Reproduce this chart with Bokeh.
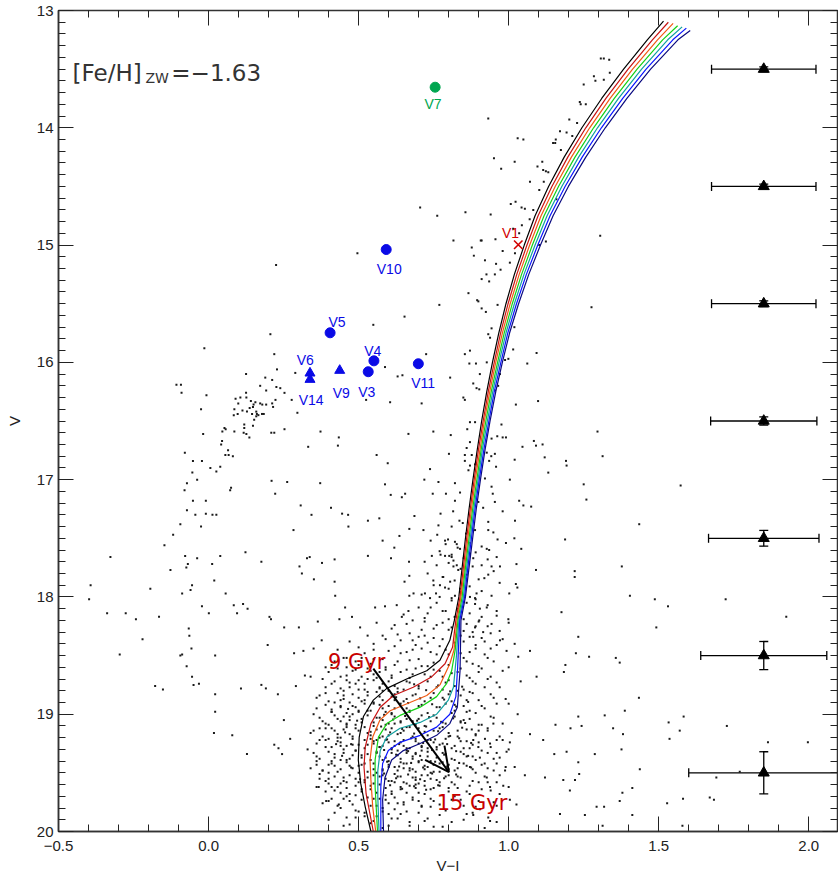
from bokeh.plotting import figure
from bokeh.models import (Range1d, LinearAxis, SingleIntervalTicker, ColumnDataSource,
                          Whisker, TeeHead, Arrow, OpenHead, CustomJSTickFormatter,
                          CustomLabelingPolicy)
from bokeh.core.properties import value
from bokeh.embed import file_html
from bokeh.resources import INLINE

# ---------------- data ----------------
# horizontal branch / blue stragglers region
hb_pts = [(-0.107,16.19),(-0.092,16.19),(-0.090,16.26),(-0.007,16.28),(-0.025,16.40),(-0.018,16.61),
(-0.079,16.77),(-0.052,16.84),(-0.022,16.84),(-0.054,16.94),(-0.038,17.00),(-0.072,17.03),(-0.080,17.09),
(-0.052,17.18),(-0.009,17.18),(-0.072,17.26),(-0.044,17.30),(-0.009,17.29),(0.013,17.30),(0.026,17.30),
(-0.094,17.38),(-0.025,17.40),(-0.118,17.47),(-0.147,17.56),(-0.327,17.66),(-0.078,17.65),(-0.069,17.72),
(-0.074,17.75),(-0.038,17.67),(0.012,17.72),(0.039,17.65),(0.123,17.62),(0.176,17.70),(-0.127,17.77),
(-0.194,17.93),(-0.055,17.90),(-0.060,17.94),(-0.088,17.97),(0.019,17.86),(0.057,17.97),(-0.022,18.08),
(0.084,18.07),(0.115,18.06),(0.130,18.10),(0.095,18.14),(0.001,18.14),(-0.338,18.14),(-0.276,18.14),
(-0.242,18.19),(-0.165,18.17),(-0.066,18.27),(0.203,18.17),(0.208,18.19),(0.252,18.26),(0.301,18.26),
(0.364,18.21),(0.436,18.19),(0.455,18.09),(0.422,17.99),(0.351,17.85),(0.311,17.80),(0.303,17.74),
(0.328,17.67),(0.337,17.66),(0.378,17.71),(0.420,17.68),(0.420,17.87),(0.283,17.43),(0.307,17.22),
(0.343,17.30),(0.408,17.24),(0.445,17.29),(0.465,17.30),(0.466,17.40),(0.372,17.03),(0.262,17.02),
(0.210,17.01),(0.222,17.12),(0.072,17.09),(0.075,17.07),(0.039,16.89),(0.026,16.93),(0.006,16.90),
(0.056,16.79),(0.067,16.79),(0.081,16.80),(0.065,16.75),(0.045,16.67),(0.042,16.70),(0.053,16.56),
(0.046,16.59),(0.057,16.57),(0.086,16.59),(0.119,16.56),(0.117,16.60),(0.148,16.54),(0.126,16.61),
(0.136,16.64),(0.152,16.49),(0.119,16.53),(0.209,16.60),(0.219,16.60),(0.253,16.57),(0.373,16.59),
(0.332,16.72),(0.431,16.71),(0.434,16.64),(0.296,16.43),(0.084,16.45),(0.097,16.44),(0.086,16.40),
(0.113,16.41),(0.128,16.42),(0.145,16.44),(0.161,16.44),(0.178,16.44),(0.184,16.44),(0.159,16.42),
(0.137,16.39),(0.150,16.36),(0.172,16.35),(0.179,16.36),(0.192,16.36),(0.212,16.35),(0.215,16.38),
(0.141,16.33),(0.126,16.30),(0.106,16.30),(0.090,16.31),(0.099,16.35),(0.125,16.26),(0.172,16.20),
(0.192,16.24),(0.226,16.21),(0.239,16.22),(0.253,16.26),(0.277,16.32),(0.223,16.32),(0.212,16.15),
(0.156,16.34),(0.148,16.38),(0.159,16.46),(0.166,16.45)]

# sparse stars, upper-left / middle part
mid_pts = [(0.206,15.76),(-0.014,15.88),(0.219,15.93),(0.228,16.06),(0.289,16.09),(0.125,16.10),(0.189,16.13),
(0.549,15.68),(0.653,15.61),(0.588,16.04),(0.630,16.12),(0.646,16.11),(0.605,16.34),(0.525,16.32),
(0.666,16.61),(0.560,16.79),(0.597,16.86),(0.588,17.04),(0.607,17.13),(0.655,17.12),(0.644,17.15),
(0.686,17.31),(0.669,17.42),(0.636,17.48),(0.619,17.58),(0.580,17.52),(0.569,17.33),(0.531,17.35),
(0.531,17.65),(0.608,17.67),(0.668,17.70),(0.653,17.87),(0.669,17.82),(0.683,17.97),(0.669,17.99),
(-0.393,17.90),(-0.398,18.02),(0.225,15.17),(0.496,15.07)]

# sparse stars, lower-left part
low_pts = [(-0.220,18.36),(-0.296,18.49),(-0.178,18.76),(-0.152,18.79),(-0.088,18.49),(-0.094,18.50),
(-0.064,18.33),(-0.057,18.44),(-0.073,18.59),(-0.055,18.68),(-0.050,18.75),(-0.032,18.74),(0.022,18.50),
(0.022,18.83),(0.022,18.98),(0.018,19.16),(0.108,18.78),(0.079,19.18),(0.128,19.34),(0.176,18.75),
(0.191,18.78),(0.197,18.41),(0.231,18.83),(0.251,19.05),(0.272,19.21),(0.219,19.26),(0.233,19.29),
(0.245,19.34),(0.285,18.48),(0.291,18.76),(0.316,18.46),(0.321,18.67),(0.340,18.68),(0.377,18.37),
(0.350,18.44),(0.392,19.74),(0.434,19.77),(0.367,19.62),(0.478,18.17),(0.505,18.26),(0.555,18.09),
(0.588,18.08),(0.627,18.07),(0.644,18.17),(0.666,18.12)]

# red giant branch and around
rgb_pts = [(1.307,13.41),(1.317,13.41),(1.335,13.42),(1.337,13.53),(1.284,13.56),(1.289,13.60),(1.317,13.59),
(1.250,13.63),(1.237,13.78),(1.240,13.80),(1.257,13.80),(1.202,13.93),(0.932,13.92),(1.228,13.96),
(1.171,14.03),(1.193,14.04),(1.212,14.07),(1.148,14.13),(1.155,14.13),(1.157,14.10),(1.030,14.09),
(1.049,14.10),(1.174,14.19),(0.951,14.26),(1.020,14.29),(0.975,14.35),(1.096,14.33),(1.112,14.29),
(1.115,14.36),(1.124,14.37),(1.132,14.38),(1.071,14.46),(1.117,14.46),(1.102,14.53),(1.159,14.61),
(1.023,14.63),(1.007,14.65),(1.043,14.68),(1.054,14.69),(1.082,14.70),(0.940,14.74),(1.070,14.78),
(1.044,14.83),(1.015,14.86),(1.035,14.90),(0.956,14.95),(0.910,14.96),(1.124,14.97),(1.102,15.00),
(1.305,14.92),(0.980,15.05),(1.021,15.07),(0.921,15.13),(0.958,15.16),(1.004,15.15),(0.973,15.21),
(0.926,15.25),(0.954,15.25),(0.935,15.31),(0.910,15.29),(0.705,14.68),(0.762,14.75),(0.856,14.72),
(0.816,14.96),(0.877,15.02),(0.884,15.09),(0.907,14.96),(0.866,15.41),(0.895,15.47),
(0.769,15.51),(0.910,15.54),(0.924,15.57),(0.899,15.48),(0.963,15.51),(1.276,15.53),(1.019,15.70),
(0.943,15.71),(0.932,15.76),(0.938,15.79),(0.871,15.90),(0.854,15.93),(1.015,15.89),(1.093,15.92),
(1.062,16.01),(0.725,15.93),(0.869,16.01),(0.891,16.01),(0.927,16.00),(0.988,15.98),(0.999,15.97),
(0.971,16.10),(0.965,16.20),(0.904,16.10),(0.805,16.13),(0.882,16.18),(0.893,16.22),(0.849,16.30),
(0.854,16.32),(0.954,16.24),(0.902,16.23),(0.710,16.35),(1.098,16.33),(1.024,16.36),(0.871,16.51),
(0.888,16.51),(0.976,16.53),(0.749,16.59),(0.807,16.62),(1.296,16.59),(0.862,16.57),(0.943,16.65),
(0.962,16.63),(0.980,16.64),(0.991,16.64),(1.046,16.72),(1.084,16.67),(1.091,16.71),(1.113,16.70),
(0.871,16.68),(0.860,16.73),(0.877,16.79),(0.801,16.78),(0.854,16.79),(0.927,16.77),(0.942,16.80),
(0.954,16.78),(0.935,16.84),(1.020,16.83),(1.120,16.81),(1.313,16.80),(1.191,16.84),(1.193,16.88),
(0.854,16.84),(0.871,16.88),(0.888,16.87),(0.866,16.92),(0.958,16.89),(1.132,16.94),(0.738,16.91),
(0.719,17.00),(0.766,17.02),(0.821,17.03),(0.921,16.99),(1.004,17.00),(0.943,17.06),(1.250,17.04),
(0.747,17.12),(0.791,17.12),(0.838,17.11),(0.899,17.19),(0.821,17.18),(0.815,17.27),(0.915,17.24),
(0.947,17.12),(0.954,17.19),(0.980,17.27),(1.035,17.18),(1.049,17.22),(1.075,17.23),(1.259,17.17),
(0.773,17.29),(0.716,17.43),(0.766,17.39),(0.810,17.40),(0.836,17.35),(0.847,17.37),(0.858,17.46),
(0.888,17.43),(0.932,17.43),(0.932,17.36),(0.949,17.45),(1.021,17.35),(1.019,17.50),(0.963,17.51),
(0.991,17.54),(1.188,17.51),(1.435,17.38),(1.573,17.05),(0.762,17.47),(0.788,17.52),(0.798,17.51),
(0.821,17.53),(0.827,17.55),(0.838,17.59),(0.927,17.59),(0.935,17.60),(0.960,17.66),(1.042,17.59),
(0.744,17.65),(0.773,17.64),(0.788,17.65),(0.802,17.65),(0.810,17.66),(0.816,17.69),(0.827,17.73),
(0.871,17.63),(0.882,17.67),(0.866,17.70),(0.910,17.73),(0.943,17.74),(0.971,17.74),(1.026,17.72),
(1.091,17.77),(1.220,17.78),(1.220,17.83),(1.377,17.74),(0.749,17.86),(0.782,17.83),(0.816,17.74),
(0.832,17.77),(0.805,17.87),(0.771,17.90),(0.788,17.92),(0.758,17.97),(0.838,17.93),(0.893,17.97),
(0.919,17.84),(0.932,17.81),(1.024,17.89),(1.029,17.92),(1.002,17.97),(0.943,17.99),(1.404,17.99),
(1.487,18.02),(1.723,18.02),(0.871,18.00),(0.888,18.01),(0.810,18.01),(0.821,17.99),(0.738,18.01),
(0.721,17.97)]

# faint stars right of the turn-off and field
right_pts = [(0.888,18.06),(0.904,18.10),(0.927,18.09),(0.960,18.16),(0.999,18.19),(0.902,18.20),(0.943,18.23),
(0.888,18.26),(0.915,18.30),(0.882,18.34),(0.971,18.37),(0.993,18.46),(1.071,18.46),(1.032,18.51),
(1.093,18.68),(1.176,18.13),(1.232,18.34),(1.224,18.48),(1.184,18.64),(1.189,18.58),(1.268,18.51),
(1.387,18.97),(1.434,18.86),(1.370,18.56),(1.492,18.26),(1.531,18.08),(1.925,18.17),(1.320,19.01),
(1.243,19.10),(1.232,19.02),(1.156,19.09),(1.206,19.12),(1.348,19.12),(1.381,19.17),(1.533,19.07),
(1.570,19.14),(1.583,19.02),(1.727,19.10),(1.864,19.24),(1.997,19.24),(1.071,19.17),(1.115,19.22),
(1.152,19.34),(1.193,19.32),(1.232,19.41),(1.287,19.34),(1.376,19.30),(1.437,19.47),(1.235,19.51),
(1.221,19.56),(1.182,19.56),(1.121,19.54),(1.054,19.52),(0.988,19.48),(0.960,19.42),(0.993,19.32),
(1.004,19.24),(0.938,19.25),(0.921,19.21),(0.949,19.08),(0.877,19.13),(0.882,19.22),(0.899,19.28),
(0.904,19.37),(0.871,19.45),(0.927,19.54),(0.938,19.62),(0.982,19.61),(1.026,19.77),(1.004,19.73),
(0.960,19.78),(0.932,19.88),(0.938,19.91),(0.960,19.92),(0.882,19.86),(0.904,19.81),(1.254,19.86),
(1.293,19.79),(1.318,19.79),(1.379,19.67),(1.412,19.86),(1.370,19.74),(1.528,19.76),(1.581,19.72),
(1.670,19.71),(1.684,19.73),(1.692,19.54),(1.770,19.49),(1.204,19.65),(1.171,19.85),(1.357,18.52),
(1.536,19.21),(1.412,19.63),(1.579,19.95),(1.313,19.95)]

# dense turn-off region (first pass)
to_pts = [(0.72,18.21),(0.78,18.22),(0.86,18.23),(0.90,18.21),(0.93,18.25),(0.75,18.27),(0.80,18.28),(0.88,18.30),
(0.67,18.31),(0.97,18.29),(0.84,18.33),(0.70,18.34),(0.62,18.24),(0.58,18.33),(1.00,18.22),(0.91,18.35),
(0.47,18.38),(0.55,18.40),(0.64,18.37),(0.73,18.39),(0.77,18.42),(0.85,18.38),(0.89,18.41),(0.94,18.44),
(1.02,18.40),(0.60,18.46),(0.68,18.45),(0.74,18.47),(0.80,18.49),(0.87,18.47),(0.92,18.49),(0.52,18.48),
(0.43,18.45),(0.98,18.36),(0.42,18.55),(0.46,18.52),(0.50,18.58),(0.55,18.53),(0.59,18.60),(0.63,18.55),
(0.66,18.62),(0.70,18.53),(0.73,18.59),(0.77,18.63),(0.85,18.52),(0.88,18.57),(0.91,18.61),(0.95,18.55),
(1.00,18.60),(0.83,18.64),(0.57,18.64),(0.48,18.63),(0.39,18.60),(0.53,18.61),(0.38,18.70),(0.41,18.74),
(0.44,18.68),(0.47,18.77),(0.50,18.71),(0.52,18.79),(0.55,18.66),(0.58,18.74),(0.61,18.69),(0.63,18.78),
(0.66,18.72),(0.70,18.76),(0.74,18.68),(0.78,18.79),(0.86,18.67),(0.89,18.74),(0.93,18.70),(0.97,18.77),
(1.04,18.72),(0.45,18.80),(0.68,18.66),(0.60,18.80),(0.36,18.86),(0.39,18.82),(0.42,18.90),(0.45,18.84),
(0.48,18.93),(0.50,18.86),(0.53,18.81),(0.55,18.91),(0.57,18.85),(0.60,18.93),(0.62,18.83),(0.65,18.89),
(0.68,18.84),(0.71,18.92),(0.74,18.86),(0.77,18.94),(0.80,18.83),(0.86,18.88),(0.88,18.82),(0.91,18.93),
(0.95,18.86),(1.00,18.91),(0.44,18.94),(0.58,18.95),(0.66,18.95),(0.52,18.88),(0.35,19.00),(0.38,19.06),
(0.41,18.98),(0.43,19.04),(0.46,19.09),(0.48,19.00),(0.51,19.07),(0.53,18.97),(0.56,19.03),(0.59,19.09),
(0.61,19.00),(0.64,19.06),(0.67,18.98),(0.70,19.04),(0.72,19.10),(0.75,19.01),(0.78,19.07),(0.81,18.99),
(0.85,19.05),(0.87,18.97),(0.90,19.09),(0.94,19.02),(0.98,19.08),(1.03,19.00),(0.45,19.02),(0.62,19.08),
(0.55,19.10),(0.40,19.09),(0.34,19.16),(0.37,19.12),(0.40,19.21),(0.42,19.14),(0.44,19.24),(0.47,19.17),
(0.49,19.12),(0.52,19.22),(0.54,19.15),(0.57,19.20),(0.59,19.13),(0.62,19.23),(0.64,19.16),(0.67,19.11),
(0.69,19.21),(0.72,19.15),(0.75,19.24),(0.77,19.12),(0.80,19.19),(0.83,19.14),(0.86,19.23),(0.89,19.17),
(0.93,19.12),(0.96,19.22),(1.01,19.16),(0.46,19.11),(0.60,19.18),(0.70,19.25),(0.55,19.25),(0.33,19.30),
(0.36,19.36),(0.39,19.28),(0.42,19.34),(0.44,19.27),(0.46,19.39),(0.49,19.31),(0.51,19.37),(0.53,19.26),
(0.56,19.33),(0.58,19.39),(0.61,19.29),(0.63,19.35),(0.65,19.27),(0.68,19.38),(0.71,19.31),(0.73,19.36),
(0.76,19.28),(0.79,19.34),(0.82,19.39),(0.85,19.29),(0.88,19.36),(0.91,19.31),(0.95,19.38),(1.00,19.30),
(0.48,19.26),(0.57,19.28),(0.66,19.33),(0.74,19.40),(0.41,19.40),(0.34,19.46),(0.37,19.51),(0.40,19.43),
(0.43,19.49),(0.45,19.54),(0.47,19.44),(0.50,19.50),(0.52,19.42),(0.55,19.47),(0.57,19.53),(0.60,19.45),
(0.62,19.51),(0.64,19.41),(0.67,19.48),(0.69,19.54),(0.72,19.44),(0.74,19.50),(0.77,19.42),(0.80,19.47),
(0.83,19.53),(0.86,19.44),(0.89,19.50),(0.93,19.46),(0.97,19.52),(1.02,19.45),(0.49,19.55),(0.59,19.55),
(0.65,19.46),(0.71,19.52),(0.42,19.44),(0.36,19.62),(0.39,19.57),(0.42,19.65),(0.44,19.59),(0.47,19.68),
(0.49,19.61),(0.52,19.56),(0.54,19.64),(0.57,19.60),(0.59,19.69),(0.62,19.58),(0.64,19.64),(0.67,19.61),
(0.70,19.67),(0.72,19.57),(0.75,19.63),(0.78,19.69),(0.82,19.60),(0.86,19.66),(0.90,19.58),(0.94,19.65),
(1.00,19.62),(0.46,19.58),(0.61,19.66),(0.69,19.60),(0.38,19.76),(0.41,19.72),(0.44,19.80),(0.47,19.74),
(0.50,19.83),(0.53,19.71),(0.56,19.78),(0.59,19.73),(0.62,19.81),(0.65,19.75),(0.68,19.71),(0.71,19.79),
(0.75,19.74),(0.79,19.82),(0.84,19.73),(0.89,19.79),(0.95,19.75),(0.52,19.84),(0.60,19.85),(0.40,19.90),
(0.45,19.95),(0.49,19.88),(0.54,19.93),(0.58,19.97),(0.63,19.89),(0.67,19.95),(0.72,19.91),(0.78,19.96),
(0.85,19.90),(0.92,19.97),(0.56,19.87),
(0.56,19.22),(0.58,19.27),(0.60,19.24),(0.63,19.31),(0.65,19.22),(0.67,19.29),(0.69,19.33),(0.71,19.27),
(0.73,19.22),(0.76,19.30),(0.78,19.25),(0.81,19.29),(0.57,19.36),(0.60,19.40),(0.62,19.45),(0.66,19.42),
(0.68,19.47),(0.70,19.40),(0.73,19.45),(0.75,19.49),(0.78,19.41),(0.80,19.52),(0.83,19.46),(0.55,19.52),
(0.58,19.48),(0.61,19.57),(0.64,19.53),(0.66,19.59),(0.69,19.56),(0.72,19.61),(0.74,19.55),(0.77,19.58),
(0.80,19.63),(0.50,19.44),(0.52,19.58),(0.48,19.35),(0.45,19.30),(0.43,19.20),(0.47,19.05),(0.50,18.98),
(0.44,18.88),(0.41,18.96),(0.39,19.12),(0.37,19.22),(0.36,19.40),(0.38,19.48),(0.40,19.55),(0.43,19.62),
(0.46,19.70),(0.51,19.66),(0.55,19.72),(0.58,19.80),(0.63,19.76),(0.66,19.83),(0.70,19.74),(0.74,19.79),
(0.82,19.70),(0.87,19.61),(0.85,19.34),(0.88,19.26),(0.84,19.06),(0.82,18.92),(0.79,18.73),(0.83,18.80),
(0.86,18.98),(0.90,19.14),(0.92,19.42),(0.96,19.33),(0.99,19.45),(0.93,19.58),(0.97,19.68),(0.88,19.84),
(0.62,18.88),(0.57,18.77),(0.53,18.70),(0.49,18.74),(0.46,18.60),(0.51,18.52),(0.64,18.48),(0.69,18.41),
(0.75,18.35),(0.82,18.17),(0.79,18.12),(0.76,18.05),(0.73,18.14),(0.70,18.09),(0.68,18.20),(0.65,18.15)]

# dense turn-off region (second pass, the crowded core)
core_pts = [(0.74,17.52),(0.79,17.55),(0.83,17.58),(0.87,17.54),(0.91,17.57),(0.77,17.61),(0.81,17.64),(0.85,17.67),
(0.89,17.62),(0.93,17.68),(0.72,17.70),(0.76,17.73),(0.80,17.71),(0.84,17.76),(0.88,17.74),(0.95,17.78),
(0.73,17.80),(0.78,17.83),(0.82,17.86),(0.86,17.81),(0.90,17.85),(0.97,17.88),(0.75,17.90),(0.80,17.93),
(0.84,17.96),(0.87,17.91),(0.91,17.95),(0.71,17.98),(0.77,18.00),(0.81,18.03),(0.86,18.05),(0.89,18.02),
(0.93,18.07),(0.74,18.09),(0.78,18.12),(0.83,18.10),(0.87,18.14),(0.91,18.17),(0.96,18.12),(0.72,18.18),
(0.80,18.19),(0.85,18.19),
(0.56,18.22),(0.61,18.27),(0.66,18.23),(0.71,18.28),(0.76,18.24),(0.81,18.26),(0.85,18.29),(0.89,18.25),
(0.94,18.31),(0.53,18.33),(0.59,18.36),(0.63,18.32),(0.68,18.37),(0.72,18.33),(0.78,18.36),(0.82,18.39),
(0.87,18.34),(0.92,18.38),(0.96,18.41),(0.50,18.43),(0.55,18.45),(0.62,18.42),(0.66,18.47),(0.71,18.44),
(0.76,18.49),(0.79,18.45),(0.84,18.48),(0.89,18.44),(0.93,18.52),(0.45,18.52),(0.49,18.55),(0.54,18.57),
(0.58,18.53),(0.62,18.58),(0.67,18.54),(0.71,18.59),(0.75,18.56),(0.80,18.58),(0.86,18.55),(0.90,18.59),
(0.41,18.58),
(0.40,18.64),(0.43,18.61),(0.46,18.67),(0.49,18.62),(0.51,18.68),(0.54,18.63),(0.56,18.69),(0.59,18.62),
(0.61,18.67),(0.64,18.64),(0.67,18.69),(0.69,18.61),(0.72,18.66),(0.75,18.62),(0.78,18.68),(0.81,18.65),
(0.84,18.61),(0.87,18.69),(0.90,18.64),(0.94,18.68),(0.98,18.63),
(0.39,18.77),(0.42,18.72),(0.44,18.78),(0.47,18.73),(0.50,18.79),(0.52,18.74),(0.55,18.71),(0.57,18.78),
(0.60,18.72),(0.62,18.76),(0.65,18.79),(0.67,18.73),(0.70,18.78),(0.73,18.72),(0.76,18.77),(0.80,18.71),
(0.82,18.76),(0.85,18.79),(0.88,18.72),(0.92,18.77),(0.96,18.73),(0.46,18.71),(0.58,18.80),
(0.37,18.84),(0.40,18.89),(0.43,18.82),(0.45,18.87),(0.48,18.83),(0.51,18.89),(0.53,18.84),(0.56,18.81),
(0.58,18.88),(0.61,18.85),(0.63,18.81),(0.66,18.87),(0.69,18.83),(0.72,18.89),(0.75,18.82),(0.78,18.86),
(0.81,18.89),(0.84,18.84),(0.87,18.81),(0.90,18.88),(0.94,18.83),(0.99,18.87),(0.55,18.90),(0.47,18.90),
(0.36,18.95),(0.39,18.92),(0.41,18.98),(0.44,18.93),(0.46,18.99),(0.49,18.94),(0.52,18.91),(0.54,18.97),
(0.57,18.92),(0.59,18.98),(0.62,18.95),(0.64,18.91),(0.67,18.97),(0.70,18.93),(0.73,18.99),(0.76,18.94),
(0.79,18.91),(0.82,18.97),(0.85,18.93),(0.89,18.99),(0.92,18.95),(0.96,18.91),(0.61,18.99),(0.50,18.97),
(0.37,19.03),(0.39,19.08),(0.42,19.01),(0.44,19.06),(0.47,19.02),(0.49,19.09),(0.51,19.04),(0.53,19.01),
(0.55,19.07),(0.57,19.03),(0.60,19.08),(0.62,19.02),(0.64,19.07),(0.66,19.04),(0.69,19.09),(0.71,19.01),
(0.74,19.06),(0.76,19.03),(0.79,19.08),(0.82,19.02),(0.84,19.07),(0.87,19.04),(0.91,19.09),(0.95,19.03),
(0.58,19.05),(0.68,19.06),(0.46,19.08),
(0.35,19.14),(0.38,19.19),(0.41,19.12),(0.43,19.17),(0.45,19.13),(0.48,19.19),(0.50,19.14),(0.52,19.11),
(0.54,19.18),(0.56,19.13),(0.58,19.19),(0.61,19.12),(0.63,19.17),(0.65,19.14),(0.68,19.19),(0.70,19.12),
(0.73,19.18),(0.75,19.14),(0.78,19.11),(0.80,19.16),(0.83,19.19),(0.86,19.13),(0.89,19.18),(0.93,19.14),
(0.97,19.19),(0.53,19.16),(0.66,19.11),(0.44,19.20),
(0.36,19.25),(0.39,19.22),(0.41,19.28),(0.43,19.23),(0.46,19.27),(0.48,19.21),(0.50,19.26),(0.52,19.29),
(0.55,19.23),(0.57,19.28),(0.59,19.22),(0.62,19.27),(0.64,19.24),(0.66,19.29),(0.69,19.23),(0.71,19.28),
(0.74,19.22),(0.77,19.26),(0.79,19.21),(0.82,19.27),(0.84,19.23),(0.87,19.29),(0.90,19.24),(0.94,19.28),
(0.98,19.22),(0.61,19.30),(0.54,19.21),(0.73,19.29),
(0.35,19.33),(0.37,19.38),(0.40,19.32),(0.42,19.37),(0.45,19.33),(0.47,19.38),(0.49,19.31),(0.51,19.35),
(0.54,19.39),(0.56,19.32),(0.59,19.37),(0.61,19.33),(0.64,19.38),(0.66,19.31),(0.68,19.36),(0.71,19.39),
(0.73,19.32),(0.76,19.37),(0.78,19.33),(0.81,19.38),(0.84,19.32),(0.86,19.36),(0.89,19.39),(0.93,19.33),
(0.97,19.37),(0.53,19.34),(0.69,19.34),(0.44,19.39),
(0.36,19.43),(0.38,19.48),(0.41,19.42),(0.44,19.47),(0.46,19.41),(0.48,19.46),(0.51,19.43),(0.53,19.49),
(0.55,19.42),(0.58,19.47),(0.60,19.43),(0.63,19.48),(0.65,19.42),(0.67,19.46),(0.70,19.41),(0.72,19.47),
(0.75,19.43),(0.77,19.49),(0.80,19.43),(0.82,19.48),(0.85,19.42),(0.88,19.47),(0.91,19.43),(0.95,19.48),
(0.56,19.50),(0.69,19.49),(0.40,19.50),
(0.37,19.55),(0.40,19.59),(0.42,19.53),(0.45,19.57),(0.47,19.52),(0.50,19.58),(0.53,19.54),(0.55,19.59),
(0.58,19.52),(0.60,19.57),(0.63,19.53),(0.65,19.58),(0.68,19.54),(0.70,19.59),(0.73,19.52),(0.76,19.56),
(0.79,19.53),(0.81,19.58),(0.84,19.54),(0.88,19.57),(0.92,19.53),(0.96,19.58),
(0.39,19.66),(0.41,19.62),(0.44,19.67),(0.46,19.63),(0.49,19.69),(0.51,19.64),(0.54,19.61),(0.56,19.67),
(0.59,19.63),(0.61,19.68),(0.64,19.62),(0.66,19.67),(0.69,19.63),(0.72,19.68),(0.74,19.64),(0.77,19.61),
(0.80,19.66),(0.83,19.63),(0.87,19.68),(0.91,19.64),
(0.40,19.74),(0.43,19.78),(0.45,19.72),(0.48,19.77),(0.51,19.73),(0.54,19.78),(0.57,19.72),(0.60,19.76),
(0.62,19.71),(0.65,19.77),(0.68,19.73),(0.71,19.78),(0.74,19.72),(0.77,19.77),(0.81,19.73),(0.85,19.78),
(0.90,19.74),
(0.42,19.84),(0.46,19.88),(0.49,19.82),(0.52,19.87),(0.55,19.91),(0.58,19.83),(0.61,19.89),(0.64,19.85),
(0.67,19.92),(0.70,19.84),(0.73,19.89),(0.77,19.86),(0.81,19.92),(0.86,19.85),(0.47,19.94),(0.60,19.95),
(0.75,19.96)]

# dense turn-off region (third pass, darkest part between and right of the isochrones)
core2_pts = [(0.585,19.005),(0.615,19.045),(0.655,19.015),(0.695,19.055),(0.735,19.025),(0.775,19.065),(0.815,19.035),
(0.855,19.075),(0.575,19.105),(0.605,19.155),(0.645,19.125),(0.685,19.165),(0.725,19.105),(0.765,19.145),
(0.805,19.185),(0.845,19.115),(0.595,19.215),(0.635,19.255),(0.675,19.205),(0.715,19.245),(0.755,19.215),
(0.795,19.255),(0.835,19.205),(0.875,19.245),(0.585,19.305),(0.625,19.345),(0.665,19.315),(0.705,19.355),
(0.745,19.305),(0.785,19.345),(0.825,19.315),(0.865,19.355),(0.595,19.405),(0.635,19.445),(0.675,19.415),
(0.715,19.455),(0.755,19.405),(0.795,19.445),(0.835,19.415),(0.875,19.455),(0.585,19.505),(0.625,19.545),
(0.665,19.515),(0.705,19.555),(0.745,19.505),(0.785,19.545),(0.825,19.515),(0.605,19.605),(0.645,19.635),
(0.685,19.615),(0.725,19.645),(0.765,19.605),(0.625,18.855),(0.665,18.905),(0.705,18.865),(0.745,18.915),
(0.785,18.875),(0.825,18.935),(0.865,18.895),(0.685,18.745),(0.725,18.795),(0.765,18.755),(0.805,18.805),
(0.845,18.765),(0.455,19.155),(0.475,19.255),(0.445,19.355),(0.475,19.455),(0.505,19.555),(0.425,19.255),
(0.465,18.955),(0.495,19.055)]

# isochrones 9 ... 15 Gyr
iso_ages = ["9", "10", "11", "12", "13", "14", "15"]
iso_top = [(1.516,13.09),(1.532,13.10),(1.548,13.11),(1.563,13.13),(1.578,13.14),(1.592,13.15),(1.605,13.17)]
rgb_v = [13.25,13.5,13.75,14.0,14.25,14.5,14.75,15.0,15.25,15.5,15.75,16.0,16.25,16.5,16.75,17.0,17.25,17.5,17.75,18.0]
rgb_vi = [
 [1.462,1.383,1.310,1.244,1.185,1.133,1.088,1.052,1.019,0.991,0.967,0.946,0.927,0.910,0.895,0.881,0.868,0.856,0.845,0.834],
 [1.479,1.398,1.324,1.257,1.197,1.144,1.098,1.061,1.027,0.998,0.973,0.952,0.932,0.915,0.899,0.885,0.872,0.860,0.849,0.838],
 [1.496,1.413,1.338,1.270,1.209,1.155,1.108,1.070,1.035,1.005,0.979,0.957,0.937,0.919,0.904,0.889,0.876,0.864,0.853,0.841],
 [1.513,1.428,1.352,1.283,1.221,1.166,1.118,1.079,1.043,1.012,0.985,0.963,0.942,0.924,0.908,0.894,0.880,0.868,0.856,0.845],
 [1.530,1.443,1.366,1.296,1.233,1.177,1.128,1.088,1.051,1.019,0.991,0.968,0.947,0.929,0.912,0.898,0.884,0.872,0.860,0.849],
 [1.547,1.458,1.380,1.309,1.245,1.188,1.138,1.097,1.059,1.026,0.997,0.974,0.952,0.934,0.917,0.902,0.888,0.876,0.864,0.853],
 [1.564,1.473,1.394,1.322,1.257,1.199,1.148,1.106,1.067,1.033,1.003,0.979,0.957,0.938,0.921,0.906,0.892,0.880,0.868,0.856]]
iso_to = [
 [(0.819,18.2),(0.804,18.37),(0.771,18.54),(0.727,18.63),(0.660,18.70),(0.594,18.78),(0.549,18.88),(0.516,19.02),(0.502,19.195),(0.499,19.39),(0.507,19.59),(0.522,19.79),(0.541,20.0)],
 [(0.824,18.2),(0.813,18.43),(0.788,18.57),(0.744,18.68),(0.682,18.77),(0.616,18.84),(0.572,18.94),(0.541,19.08),(0.522,19.28),(0.518,19.45),(0.525,19.68),(0.549,20.0)],
 [(0.828,18.2),(0.818,18.45),(0.804,18.57),(0.771,18.75),(0.727,18.84),(0.671,18.90),(0.605,18.97),(0.571,19.05),(0.547,19.195),(0.538,19.39),(0.541,19.56),(0.547,19.79),(0.557,20.0)],
 [(0.831,18.2),(0.822,18.45),(0.810,18.63),(0.793,18.74),(0.760,18.85),(0.705,18.94),(0.638,19.01),(0.594,19.08),(0.566,19.195),(0.555,19.39),(0.555,19.62),(0.563,20.0)],
 [(0.834,18.2),(0.826,18.5),(0.816,18.77),(0.799,18.88),(0.760,19.0),(0.705,19.07),(0.638,19.12),(0.594,19.195),(0.572,19.31),(0.564,19.48),(0.564,19.71),(0.568,20.0)],
 [(0.837,18.2),(0.830,18.6),(0.824,18.85),(0.804,19.0),(0.760,19.11),(0.705,19.18),(0.638,19.24),(0.599,19.31),(0.580,19.42),(0.574,19.62),(0.574,20.0)],
 [(0.841,18.2),(0.838,18.63),(0.829,18.94),(0.804,19.08),(0.760,19.18),(0.705,19.25),(0.649,19.31),(0.610,19.39),(0.588,19.54),(0.580,19.73),(0.583,20.0)]]

# variable stars
var_names = ["V1", "V3", "V4", "V5", "V6", "V7", "V9", "V10", "V11", "V14"]
var_vi = [1.032, 0.532, 0.551, 0.405, 0.338, 0.755, 0.437, 0.592, 0.699, 0.338]
var_v = [14.997, 16.080, 15.987, 15.748, 16.092, 13.654, 16.069, 15.038, 16.012, 16.146]
var_type = ["x", "circle", "circle", "circle", "triangle", "circle", "triangle", "circle", "circle", "triangle"]
var_group = ["red", "blue", "blue", "blue", "blue", "green", "blue", "blue", "blue", "blue"]

# photometric errors
err_v = [13.5, 14.5, 15.5, 16.5, 17.5, 18.5, 19.5]
err_vi = [1.85, 1.85, 1.85, 1.85, 1.85, 1.85, 1.85]
err_dvi = [0.174, 0.174, 0.174, 0.177, 0.184, 0.210, 0.250]
err_dv = [0.020, 0.020, 0.025, 0.035, 0.067, 0.120, 0.180]

feh_text = "=\u22121.63"

# ---------------- styles / placement ----------------
iso_colors = ["#000000", "#c81414", "#f05a14", "#14d214", "#10a0a0", "#0a14ff", "#0a0a80"]
group_colors = {"red": "#d20000", "blue": "#0a0ae6", "green": "#00a650"}
lbl_x = [1.006, 0.527, 0.547, 0.428, 0.322, 0.748, 0.442, 0.602, 0.715, 0.342]
lbl_v = [14.90, 16.254, 15.905, 15.66, 15.984, 13.80, 16.26, 15.20, 16.18, 16.32]

p = figure(width=841, height=878, x_range=Range1d(-0.5, 2.0957), y_range=Range1d(20, 13),
           output_backend="svg", toolbar_location=None,
           min_border_left=58, min_border_right=0, min_border_top=10, min_border_bottom=47,
           background_fill_color="white", border_fill_color="white")
p.grid.visible = False
p.outline_line_color = "#333333"
p.outline_line_width = 1.5

p.xaxis.ticker = SingleIntervalTicker(interval=0.5, num_minor_ticks=5)
p.yaxis.ticker = SingleIntervalTicker(interval=1, num_minor_ticks=10)
p.xaxis.formatter = CustomJSTickFormatter(code="return tick.toFixed(1).replace('-', '\u2212');")
p.xaxis.axis_label = "V\u2212I"
p.yaxis.axis_label = "V"
for ax in (p.xaxis[0], p.yaxis[0]):
    ax.major_tick_in = 15
    ax.major_tick_out = 0
    ax.minor_tick_in = 7
    ax.minor_tick_out = 0
    ax.axis_line_color = "#333333"
    ax.axis_line_width = 1.5
    ax.major_tick_line_color = "#222222"
    ax.minor_tick_line_color = "#222222"
    ax.major_label_text_font = "Liberation Sans"
    ax.major_label_text_font_size = "15px"
    ax.major_label_text_color = "#222222"
    ax.axis_label_text_font = "Liberation Sans"
    ax.axis_label_text_font_size = "15px"
    ax.axis_label_text_font_style = "normal"
    ax.axis_label_text_color = "#222222"
p.xaxis.major_label_standoff = 9
p.xaxis.axis_label_standoff = 3
p.yaxis.major_label_standoff = 5
p.yaxis.axis_label_standoff = 11

top_ax = LinearAxis(ticker=SingleIntervalTicker(interval=0.5, num_minor_ticks=5))
right_ax = LinearAxis(ticker=SingleIntervalTicker(interval=1, num_minor_ticks=10))
for ax in (top_ax, right_ax):
    ax.major_tick_in = 15
    ax.major_tick_out = 0
    ax.minor_tick_in = 7
    ax.minor_tick_out = 0
    ax.axis_line_color = "#333333"
    ax.major_tick_line_color = "#222222"
    ax.minor_tick_line_color = "#222222"
    ax.major_label_text_font_size = "1px"
    ax.major_label_standoff = 0
    ax.major_label_policy = CustomLabelingPolicy(code="")
p.add_layout(top_ax, "above")
p.add_layout(right_ax, "right")

# stars
for pts in (hb_pts, mid_pts, low_pts, rgb_pts, right_pts, to_pts, core_pts, core2_pts):
    p.scatter([a for a, b in pts], [b for a, b in pts], marker="square", size=2,
              fill_color="#1a1a1a", line_color=None)

# isochrones
for k in range(len(iso_ages)):
    xs = [iso_top[k][0]] + rgb_vi[k] + [a for a, b in iso_to[k]]
    ys = [iso_top[k][1]] + rgb_v + [b for a, b in iso_to[k]]
    p.line(xs, ys, line_color=iso_colors[k], line_width=1.2)

# error bars
esrc = ColumnDataSource(dict(
    v=err_v, vi=err_vi,
    xlo=[a - d for a, d in zip(err_vi, err_dvi)], xhi=[a + d for a, d in zip(err_vi, err_dvi)],
    vlo=[a - d for a, d in zip(err_v, err_dv)], vhi=[a + d for a, d in zip(err_v, err_dv)]))
p.add_layout(Whisker(source=esrc, base="v", lower="xlo", upper="xhi", dimension="width",
                     line_color="black", line_width=1.3,
                     upper_head=TeeHead(size=9, line_color="black", line_width=1.3),
                     lower_head=TeeHead(size=9, line_color="black", line_width=1.3)))
p.add_layout(Whisker(source=esrc, base="vi", lower="vlo", upper="vhi", dimension="height",
                     line_color="black", line_width=1.3,
                     upper_head=TeeHead(size=9, line_color="black", line_width=1.3),
                     lower_head=TeeHead(size=9, line_color="black", line_width=1.3)))
p.scatter("vi", "v", source=esrc, marker="triangle", size=11, fill_color="black", line_color="black")

# variable stars
for i, nm in enumerate(var_names):
    c = group_colors[var_group[i]]
    if var_type[i] == "x":
        p.scatter([var_vi[i]], [var_v[i]], marker="x", size=12, line_color=c, line_width=1.6)
    else:
        p.scatter([var_vi[i]], [var_v[i]], marker=var_type[i], size=10, fill_color=c, line_color=c)
    p.text([lbl_x[i]], [lbl_v[i]], text=[nm], text_color=c, text_font=value("Liberation Sans"),
           text_font_size="14px", text_align="center", text_baseline="alphabetic")

# age arrow and labels
p.add_layout(Arrow(end=OpenHead(size=24, line_width=2, line_color="black"),
                   x_start=0.549, y_start=18.612, x_end=0.801, y_end=19.494,
                   line_width=2, line_color="black"))
p.text([0.398], [18.556], text=[iso_ages[0] + " Gyr"], text_color="#c80000",
       text_font=value("DejaVu Sans"), text_font_size="21px", text_baseline="alphabetic")
p.text([0.760], [19.76], text=[iso_ages[-1] + " Gyr"], text_color="#c80000",
       text_font=value("DejaVu Sans"), text_font_size="21px", text_baseline="alphabetic")

# metallicity label
p.text([-0.453], [13.53], text=["[Fe/H]"], text_color="#333333", text_font=value("DejaVu Sans"),
       text_font_size="23px", text_baseline="alphabetic")
p.text([-0.2105], [13.575], text=["ZW"], text_color="#333333", text_font=value("DejaVu Sans"),
       text_font_size="14px", text_baseline="alphabetic")
p.text([-0.124], [13.53], text=[feh_text], text_color="#333333", text_font=value("DejaVu Sans"),
       text_font_size="23px", text_baseline="alphabetic")

open("out.html", "w").write(file_html(p, INLINE))
